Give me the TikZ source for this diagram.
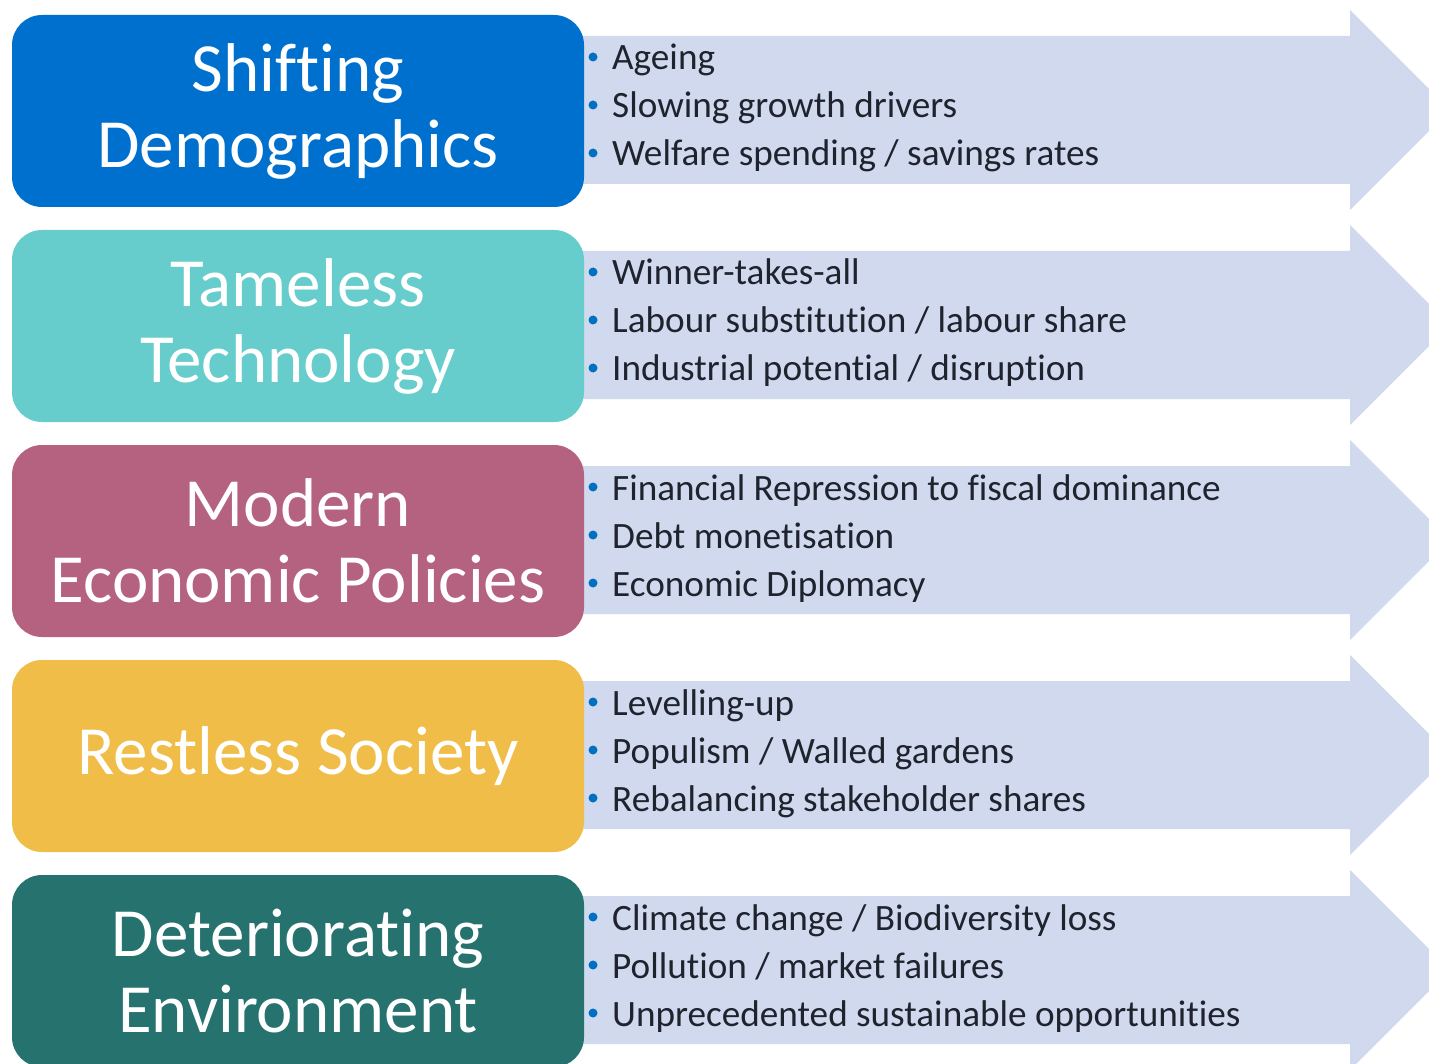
\documentclass[tikz,border=0pt]{standalone}
\usepackage{fontspec}
\setmainfont{Carlito}[Ligatures=NoCommon]
\definecolor{demoblue}{RGB}{0,112,206}
\definecolor{techteal}{RGB}{102,204,204}
\definecolor{policymauve}{RGB}{180,98,128}
\definecolor{societyyellow}{RGB}{240,190,72}
\definecolor{envgreen}{RGB}{38,114,110}
\definecolor{bandcol}{RGB}{208,217,238}
\definecolor{itemtext}{RGB}{30,35,45}
\definecolor{dotcol}{RGB}{0,112,192}

% one row: #1 offset, #2 name, #3 colour, #4 title, #5-#7 items
\newcommand\trendrow[7]{%
  \fill[bandcol] (570,36+#1) -- (1350,36+#1) -- (1350,10+#1) -- (1450,110+#1)
     -- (1350,210+#1) -- (1350,184+#1) -- (570,184+#1) -- cycle;
  \node[topic, fill=#3] (#2) at (298,111+#1) {#4};
  \node[dot] (#2-d1) at (593,57+#1) {};
  \node[item] (#2-i1) at (612,70+#1) {#5};
  \node[dot] (#2-d2) at (593,105+#1) {};
  \node[item] (#2-i2) at (612,118+#1) {#6};
  \node[dot] (#2-d3) at (593,153+#1) {};
  \node[item] (#2-i3) at (612,166+#1) {#7};
}

\begin{document}
\begin{tikzpicture}[x=1pt,y=-1pt,
  topic/.style={rectangle, rounded corners=30pt, minimum width=572pt,
    minimum height=192pt, inner sep=0pt, text=white, align=center,
    font=\fontsize{69}{76}\selectfont},
  item/.style={anchor=base west, inner sep=0pt, text=itemtext,
    font=\fontsize{37.2}{48}\selectfont},
  dot/.style={circle, fill=dotcol, inner sep=0pt, minimum size=9pt}]
\useasboundingbox (0,0) rectangle (1429,1064);
\clip (0,0) rectangle (1429,1064);

\trendrow{0}{demo}{demoblue}{Shifting\\Demographics}
  {Ageing}{Slowing growth drivers}{Welfare spending / savings rates}
\trendrow{215}{tech}{techteal}{Tameless\\Technology}
  {Winner-takes-all}{Labour substitution / labour share}{Industrial potential / disruption}
\trendrow{430}{policy}{policymauve}{Modern\\Economic Policies}
  {Financial Repression to fiscal dominance}{Debt monetisation}{Economic Diplomacy}
\trendrow{645}{society}{societyyellow}{Restless Society}
  {Levelling-up}{Populism / Walled gardens}{Rebalancing stakeholder shares}
\trendrow{860}{env}{envgreen}{Deteriorating\\Environment}
  {Climate change / Biodiversity loss}{Pollution / market failures}{Unprecedented sustainable opportunities}
\end{tikzpicture}
\end{document}
